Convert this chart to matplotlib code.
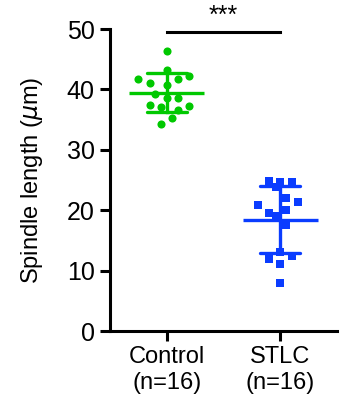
import numpy as np
import matplotlib
matplotlib.use('Agg')
import matplotlib.pyplot as plt

plt.rcParams['font.family'] = ['Liberation Sans', 'DejaVu Sans']

# Data
groups = ['Control\n(n=16)', 'STLC\n(n=16)']
control = [46.4, 43.2, 41.7, 41.1, 41.7, 42.3, 40.8, 39.2,
           38.6, 38.6, 37.4, 37.1, 36.6, 37.3, 35.2, 34.3]
control_jitter = [0, 0, -0.25, -0.15, 0.10, 0.20, 0, -0.10,
                  0, 0.10, -0.15, -0.05, 0.10, 0.20, 0.05, -0.05]
stlc = [24.9, 24.7, 24.7, 23.9, 22.1, 21.4, 20.9, 20.1,
        19.6, 19.0, 17.5, 13.1, 12.0, 12.4, 11.1, 8.0]
stlc_jitter = [-0.10, 0, 0.10, -0.04, 0.05, 0.16, -0.20, 0.05,
               -0.10, -0.04, 0.05, 0, -0.10, 0.10, 0, 0]
significance = '***'

GREEN = '#00C800'
BLUE = '#0A3CFF'

fig = plt.figure(figsize=(3.44, 4.13), dpi=100)
ax = fig.add_axes([0.3198, 0.1985, 0.66, 0.7312])

series = [(control, control_jitter, GREEN, 'o', 34),
          (stlc, stlc_jitter, BLUE, 's', 36)]

for i, (vals, jit, color, marker, size) in enumerate(series):
    x = i + 1
    vals = np.array(vals)
    mean = vals.mean()
    sd = vals.std(ddof=1)
    # mean line and SD error bar
    ax.plot([x - 0.33, x + 0.33], [mean, mean], color=color, lw=2.4,
            solid_capstyle='butt', zorder=3)
    ax.plot([x, x], [mean - sd, mean + sd], color=color, lw=2.4, zorder=3)
    for y in (mean - sd, mean + sd):
        ax.plot([x - 0.175, x + 0.175], [y, y], color=color, lw=2.4,
                solid_capstyle='round', zorder=3)
    ax.scatter(x + np.array(jit), vals, s=size, marker=marker, color=color,
               linewidths=0, zorder=4)

# significance bar
ax.plot([1, 2], [49.5, 49.5], color='black', lw=2.2, clip_on=False)
ax.text(1.5, 50.2, significance, ha='center', va='bottom', fontsize=18)

ax.set_xlim(0.5, 2.5)
ax.set_ylim(0, 50)
ax.set_yticks([0, 10, 20, 30, 40, 50])
ax.set_xticks([1, 2])
ax.set_xticklabels(groups, fontsize=17)
ax.tick_params(axis='y', labelsize=18, width=2.2, length=7, pad=4)
ax.tick_params(axis='x', width=2.2, length=7, pad=4)
ax.set_ylabel('Spindle length ($\\mu$m)', fontsize=17, labelpad=16)

for side in ('top', 'right'):
    ax.spines[side].set_visible(False)
for side in ('left', 'bottom'):
    ax.spines[side].set_linewidth(2.2)

fig.savefig('out.png', dpi=100)
